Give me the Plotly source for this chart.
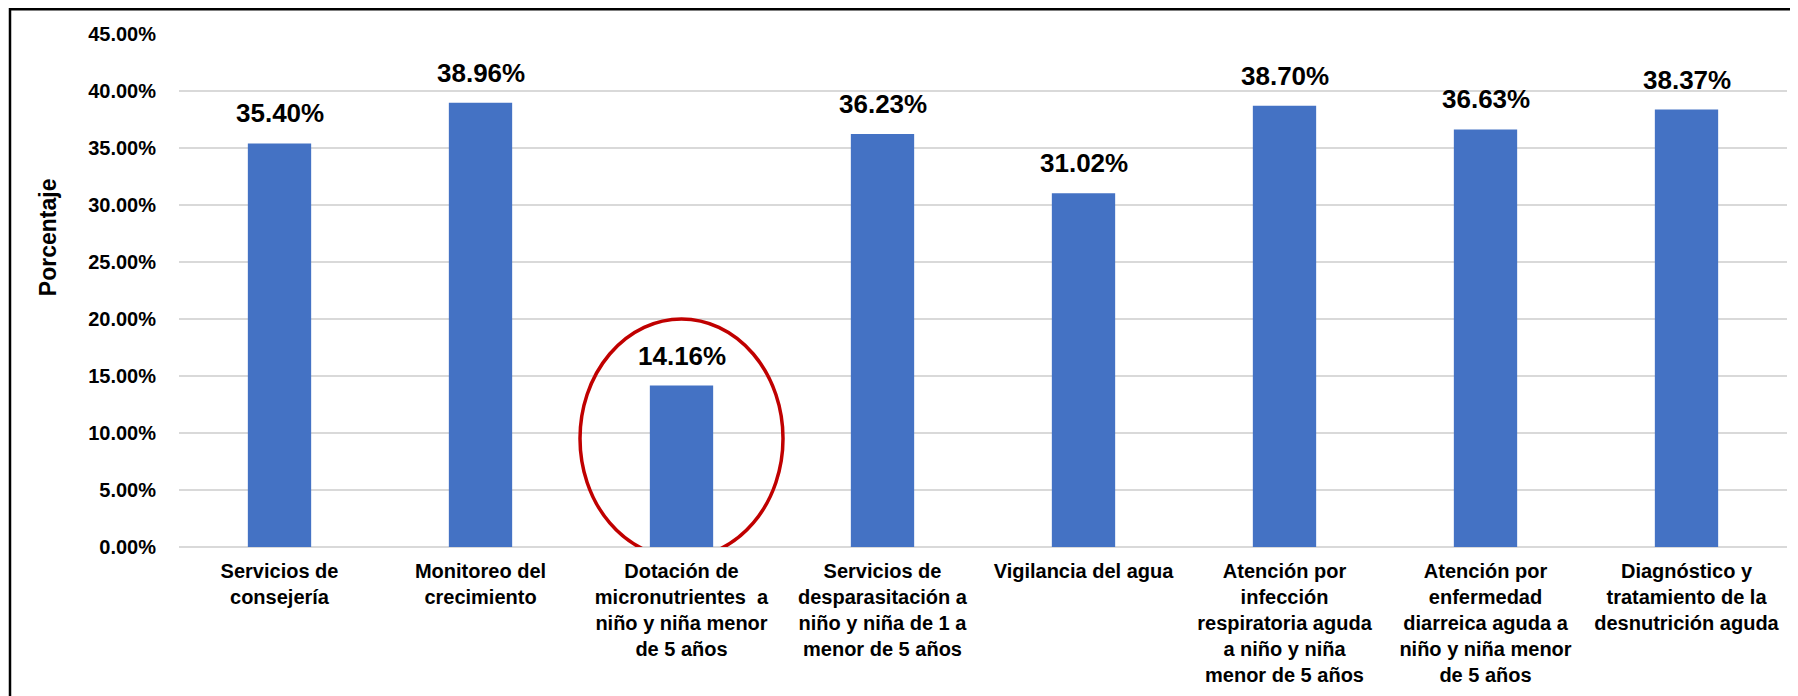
import plotly.graph_objects as go

categories = [
    "Servicios de<br>consejería",
    "Monitoreo del<br>crecimiento",
    "Dotación de<br>micronutrientes  a<br>niño y niña menor<br>de 5 años",
    "Servicios de<br>desparasitación a<br>niño y niña de 1 a<br>menor de 5 años",
    "Vigilancia del agua",
    "Atención por<br>infección<br>respiratoria aguda<br>a niño y niña<br>menor de 5 años",
    "Atención por<br>enfermedad<br>diarreica aguda a<br>niño y niña menor<br>de 5 años",
    "Diagnóstico y<br>tratamiento de la<br>desnutrición aguda",
]
values = [0.3540, 0.3896, 0.1416, 0.3623, 0.3102, 0.3870, 0.3663, 0.3837]
tick_vals = [0, 0.05, 0.10, 0.15, 0.20, 0.25, 0.30, 0.35, 0.40, 0.45]
highlight_index = 2
y_title = "Porcentaje"

FONT = "Liberation Sans"
BAR = "#4472C4"

fig = go.Figure()
fig.add_trace(go.Bar(
    x=categories, y=values, marker=dict(color=BAR, line=dict(width=0)),
    hoverinfo="skip",
))

for c, v in zip(categories, values):
    fig.add_annotation(
        x=c, y=v, text=f"{v*100:.2f}%", showarrow=False,
        yanchor="bottom", yshift=13,
        font=dict(family=FONT, size=26, color="#000000", weight="bold"),
    )

fig.add_annotation(
    xref="paper", yref="paper", x=-0.0908, y=0.604, text=f"<b>{y_title}</b>",
    showarrow=False, textangle=-90,
    font=dict(family=FONT, size=23, color="#000000"),
)

# highlight ellipse around the smallest bar
fig.add_shape(
    type="circle", xref="x", yref="y",
    x0=highlight_index - 0.505, x1=highlight_index + 0.505,
    y0=-0.0096, y1=0.200,
    line=dict(color="#C00000", width=3.5), layer="above",
)

# outer frame (left and top edges)
fig.add_shape(
    type="path", xref="paper", yref="paper",
    path="M -0.1051,-0.5 L -0.1051,1.0482 L 1.05,1.0482",
    line=dict(color="#000000", width=2.5),
)

# page body has an 8px default margin; plot area lands at x 179-1787, y 34-547
fig.update_layout(
    width=1790, height=688,
    margin=dict(l=171, r=11, t=26, b=149),
    paper_bgcolor="white", plot_bgcolor="white",
    showlegend=False,
    bargap=0.685,
    font=dict(family=FONT, color="#000000"),
)
fig.update_xaxes(
    showgrid=False, showline=False, zeroline=False, ticks="",
    tickangle=0, ticklabelstandoff=10,
    tickfont=dict(family=FONT, size=20, color="#000000", weight="bold"),
)
fig.update_yaxes(
    range=[0, 0.45], tickvals=tick_vals, tickformat=".2%",
    showgrid=True, gridcolor="#D9D9D9", gridwidth=1.6,
    zeroline=True, zerolinecolor="#D9D9D9", zerolinewidth=1.6,
    showline=False, ticks="", ticklabelstandoff=22,
    tickfont=dict(family=FONT, size=20, color="#000000", weight="bold"),
)

fig.write_html("out.html")
